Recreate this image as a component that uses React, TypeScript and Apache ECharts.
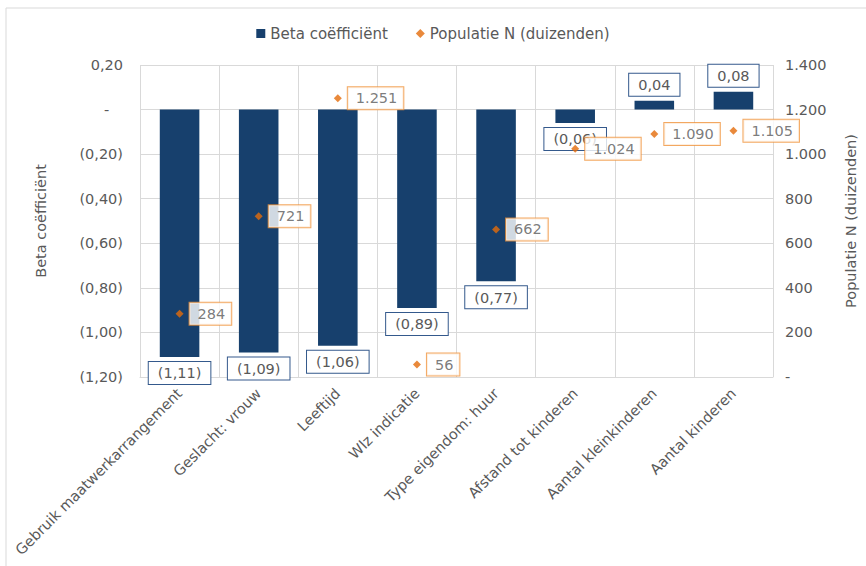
import React, { useEffect, useRef } from "react";
import * as echarts from "echarts";

const categories = [
  "Gebruik maatwerkarrangement",
  "Geslacht: vrouw",
  "Leeftijd",
  "Wlz indicatie",
  "Type eigendom: huur",
  "Afstand tot kinderen",
  "Aantal kleinkinderen",
  "Aantal kinderen",
];
const betaValues = [-1.11, -1.09, -1.06, -0.89, -0.77, -0.06, 0.04, 0.08];
const populationValues = [284, 721, 1251, 56, 662, 1024, 1090, 1105];

const FONT = "DejaVu Sans";
const TEXT = "#595959";
const BAR = "#17406d";
const ORANGE = "#e46c0a";
const FS = 14.5;

const fmtBeta = (v: number) => {
  if (Math.abs(v) < 1e-9) return "-";
  const s = Math.abs(v).toFixed(2).replace(".", ",");
  return v < 0 ? `(${s})` : s;
};
const fmtPop = (v: number) => {
  if (Math.abs(v) < 1e-9) return "-";
  return Math.round(v).toString().replace(/\B(?=(\d{3})+(?!\d))/g, ".");
};

export default function App() {
  const ref = useRef<HTMLDivElement>(null);
  useEffect(() => {
    if (!ref.current) return;
    const chart = echarts.init(ref.current, null, { renderer: "svg" });
    chart.setOption({
      animation: false,
      backgroundColor: "#ffffff",
      textStyle: { fontFamily: FONT, color: TEXT },
      graphic: [
        {
          type: "rect",
          shape: { x: 6, y: 8, width: 900, height: 600 },
          style: { fill: "none", stroke: "#d9d9d9", lineWidth: 1 },
          silent: true,
        },
      ],
      legend: {
        top: 21,
        left: "center",
        itemWidth: 9,
        itemHeight: 9,
        itemGap: 28,
        textStyle: { fontFamily: FONT, fontSize: 15, color: TEXT },
        data: [
          { name: "Beta coëfficiënt", icon: "rect" },
          { name: "Populatie N (duizenden)", icon: "diamond" },
        ],
      },
      grid: { left: 140, right: 88, top: 65, bottom: 189 },
      xAxis: {
        type: "category",
        data: categories,
        axisLine: { onZero: false, lineStyle: { color: "#d9d9d9" } },
        axisTick: { show: false },
        splitLine: { show: true, lineStyle: { color: "#d9d9d9" } },
        axisLabel: {
          rotate: 45,
          interval: 0,
          margin: 14,
          fontFamily: FONT,
          fontSize: FS,
          color: TEXT,
        },
      },
      yAxis: [
        {
          type: "value",
          min: -1.2,
          max: 0.2,
          interval: 0.2,
          name: "Beta coëfficiënt",
          nameLocation: "middle",
          nameGap: 92,
          nameTextStyle: { fontFamily: FONT, fontSize: FS, color: TEXT },
          axisLine: { show: false },
          axisTick: { show: false },
          splitLine: { lineStyle: { color: "#d9d9d9" } },
          axisLabel: {
            margin: 17,
            fontFamily: FONT,
            fontSize: FS,
            color: TEXT,
            formatter: (v: number) => (Math.abs(v) < 1e-9 ? "-\u00a0\u00a0\u00a0" : fmtBeta(v)),
          },
        },
        {
          type: "value",
          min: 0,
          max: 1400,
          interval: 200,
          name: "Populatie N (duizenden)",
          nameLocation: "middle",
          nameGap: 70,
          nameTextStyle: { fontFamily: FONT, fontSize: FS, color: TEXT },
          axisLine: { show: false },
          axisTick: { show: false },
          splitLine: { show: false },
          axisLabel: {
            margin: 12,
            fontFamily: FONT,
            fontSize: FS,
            color: TEXT,
            formatter: fmtPop,
          },
        },
      ],
      series: [
        {
          name: "Beta coëfficiënt",
          type: "bar",
          yAxisIndex: 0,
          barWidth: "50%",
          itemStyle: { color: BAR },
          data: betaValues.map((v) => ({
            value: v,
            label: { position: v < 0 ? "bottom" : "top" },
          })),
          label: {
            show: true,
            distance: 5,
            formatter: (p: any) => fmtBeta(p.value),
            fontFamily: FONT,
            fontSize: FS,
            color: TEXT,
            backgroundColor: "#ffffff",
            borderColor: "#34598c",
            borderWidth: 1,
            padding: [4, 9, 3, 9],
          },
        },
        {
          name: "Populatie N (duizenden)",
          type: "scatter",
          yAxisIndex: 1,
          symbol: "diamond",
          symbolSize: 8,
          itemStyle: { color: ORANGE },
          data: populationValues,
          z: 5,
          label: {
            show: true,
            position: "right",
            distance: 6,
            formatter: (p: any) => fmtPop(p.value),
            fontFamily: FONT,
            fontSize: FS,
            color: TEXT,
            backgroundColor: "#ffffff",
            borderColor: "#f0923a",
            borderWidth: 1,
            padding: [4, 6, 3, 8],
          },
        },
      ],
    });
    return () => chart.dispose();
  }, []);
  return (
    <div
      ref={ref}
      style={{ position: "absolute", left: 0, top: 0, width: 866, height: 566 }}
    />
  );
}
